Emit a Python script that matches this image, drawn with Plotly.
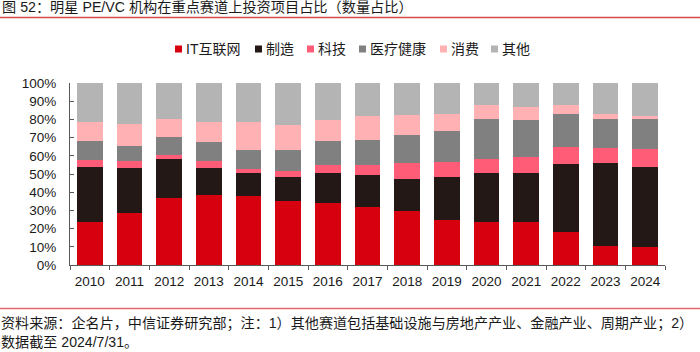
import plotly.graph_objects as go

years = ["2010", "2011", "2012", "2013", "2014", "2015", "2016", "2017",
         "2018", "2019", "2020", "2021", "2022", "2023", "2024"]
it_internet = [23.4, 28.5, 36.6, 38.2, 37.8, 35.1, 34.2, 31.8, 29.6, 25.0, 23.8, 23.9, 18.3, 10.4, 9.9]
manufacturing = [30.5, 24.9, 21.5, 15.2, 12.7, 13.0, 16.4, 17.6, 17.6, 23.4, 26.5, 26.4, 37.1, 45.4, 44.2]
technology = [3.9, 3.5, 2.2, 4.0, 2.5, 3.5, 4.2, 5.3, 8.7, 8.1, 8.2, 8.9, 9.7, 8.4, 9.5]
healthcare = [10.6, 8.5, 10.1, 10.2, 10.3, 11.7, 13.4, 14.0, 15.4, 17.4, 21.6, 20.5, 18.1, 16.2, 16.5]
consumer = [10.2, 12.1, 10.0, 11.0, 15.1, 13.8, 11.3, 13.0, 11.0, 9.3, 7.7, 7.3, 4.7, 2.6, 1.8]
others = [21.4, 22.5, 19.6, 21.4, 21.6, 22.9, 20.5, 18.3, 17.7, 16.8, 12.2, 13.0, 12.1, 17.0, 18.1]

series_names = ["IT互联网", "制造", "科技", "医疗健康", "消费", "其他"]
series_values = [it_internet, manufacturing, technology, healthcare, consumer, others]
colors = ["#d7000f", "#231815", "#ff5c78", "#808080", "#ffb1b4", "#b4b4b4"]

title_text = "图 52：明星 PE/VC 机构在重点赛道上投资项目占比（数量占比）"
footer_line1 = "资料来源：企名片，中信证券研究部；注：1）其他赛道包括基础设施与房地产产业、金融产业、周期产业；2）"
footer_line2 = "数据截至 2024/7/31。"

FONT = "Liberation Sans, Arial, Noto Sans CJK SC, sans-serif"
W, H = 700, 352
L, R, T, B = 70, 35, 83, 87
PW, PH = W - L - R, H - T - B


def px_x(x):
    return (x - L) / PW


def px_y(y):
    return (H - B - y) / PH


fig = go.Figure()
for name, vals, col in zip(series_names, series_values, colors):
    fig.add_trace(go.Bar(x=years, y=vals, name=name, marker=dict(color=col, line=dict(width=0)),
                         showlegend=False))

shapes = []
annotations = []

# custom compact legend
legend_marker_x = [175, 255, 307, 359, 440, 491]
legend_y = 49
for mx, name, col in zip(legend_marker_x, series_names, colors):
    shapes.append(dict(type="rect", xref="paper", yref="paper",
                       x0=px_x(mx), x1=px_x(mx + 7), y0=px_y(legend_y + 3.5), y1=px_y(legend_y - 3.5),
                       fillcolor=col, line=dict(width=0)))
    annotations.append(dict(text=name, xref="paper", yref="paper", x=px_x(mx + 8.5), y=px_y(legend_y),
                            xanchor="left", yanchor="middle", showarrow=False,
                            font=dict(size=14, color="#1a1a1a", family=FONT)))

# header / footer rules
shapes.append(dict(type="line", xref="paper", yref="paper", x0=px_x(0), x1=px_x(W),
                   y0=px_y(17.5), y1=px_y(17.5), line=dict(color="#d94a4a", width=1.5)))
shapes.append(dict(type="line", xref="paper", yref="paper", x0=px_x(0), x1=px_x(W),
                   y0=px_y(308.5), y1=px_y(308.5), line=dict(color="#e06a6a", width=1.5)))

annotations.append(dict(text=title_text, xref="paper", yref="paper", x=px_x(0), y=px_y(7.5),
                        xanchor="left", yanchor="middle", showarrow=False,
                        font=dict(size=14.2, color="#1a1a1a", family=FONT)))
annotations.append(dict(text=footer_line1, xref="paper", yref="paper", x=px_x(-1), y=px_y(323),
                        xanchor="left", yanchor="middle", showarrow=False,
                        font=dict(size=14.1, color="#1a1a1a", family=FONT)))
annotations.append(dict(text=footer_line2, xref="paper", yref="paper", x=px_x(-1), y=px_y(342),
                        xanchor="left", yanchor="middle", showarrow=False,
                        font=dict(size=14.1, color="#1a1a1a", family=FONT)))

fig.update_layout(
    width=W, height=H,
    margin=dict(l=L, r=R, t=T, b=B, autoexpand=False),
    barmode="stack", barnorm="percent", bargap=0.345,
    plot_bgcolor="white", paper_bgcolor="white",
    font=dict(family=FONT, size=13, color="#1a1a1a"),
    shapes=shapes, annotations=annotations,
    showlegend=False,
)
fig.update_xaxes(type="category", showline=True, linecolor="#595959", linewidth=1,
                 ticks="outside", tickson="boundaries", ticklen=4, tickcolor="#595959",
                 tickfont=dict(size=13.5), showgrid=False, ticklabelstandoff=4)
fig.update_yaxes(range=[0, 100], dtick=10, ticksuffix="%", showline=True, linecolor="#595959",
                 linewidth=1, ticks="inside", ticklen=4, tickcolor="#595959", showgrid=False,
                 zeroline=False, tickfont=dict(size=13.5), ticklabelstandoff=10)

fig.write_html("out.html")
